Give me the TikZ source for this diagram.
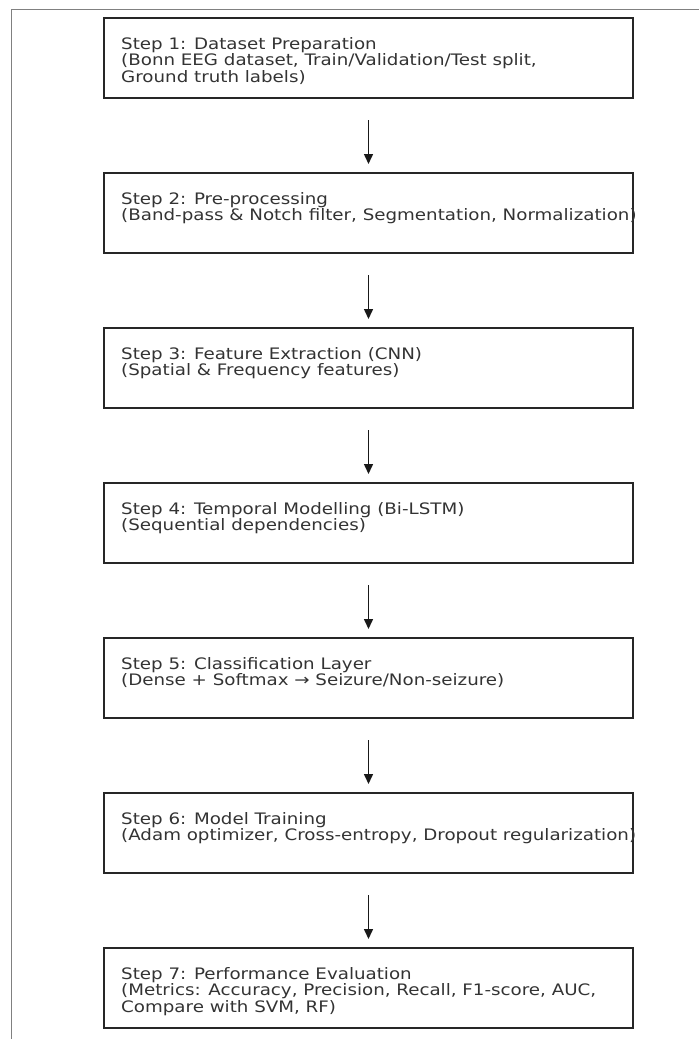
\documentclass[tikz,border=0pt]{standalone}
\usepackage{fontspec}
\setmainfont{DejaVu Sans}
\usetikzlibrary{arrows.meta,calc}
\newcommand{\steplines}[1]{\scalebox{1.155}[1]{\begin{tabular}[t]{@{}l@{}}#1\end{tabular}}}
\tikzset{
  stepbox/.style={draw=black!85, line width=1.8pt, minimum width=529pt, minimum height=80pt, inner sep=0pt, outer sep=0pt},
  steptext/.style={anchor=base west, inner sep=0pt, text=black!80, font=\fontsize{15.8pt}{16.5pt}\selectfont},
  arr/.style={draw=black!90, line width=1.5pt, -{Triangle[length=10pt,width=9pt]}, shorten <=22pt, shorten >=9pt},
  frame/.style={draw=black!50, line width=1.3pt}
}
\begin{document}
\begin{tikzpicture}[x=1pt,y=-1pt]
\useasboundingbox (0,0) rectangle (699,1039);
\coordinate (fa) at (11.5,1039);
\coordinate (fb) at (11.5,9.5);
\coordinate (fc) at (699,9.5);
\draw[frame] (fa) -- (fb) -- (fc);
\foreach \i/\t in {1/{Step 1: Dataset Preparation\\(Bonn EEG dataset, Train/Validation/Test split,\\Ground truth labels)},
                   2/{Step 2: Pre-processing\\(Band-pass \& Notch filter, Segmentation, Normalization)},
                   3/{Step 3: Feature Extraction (CNN)\\(Spatial \& Frequency features)},
                   4/{Step 4: Temporal Modelling (Bi-LSTM)\\(Sequential dependencies)},
                   5/{Step 5: Classification Layer\\(Dense + Softmax → Seizure/Non-seizure)},
                   6/{Step 6: Model Training\\(Adam optimizer, Cross-entropy, Dropout regularization)},
                   7/{Step 7: Performance Evaluation\\(Metrics: Accuracy, Precision, Recall, F1-score, AUC,\\Compare with SVM, RF)}}{
  \node[stepbox] (b\i) at (368.5, {58+155*(\i-1)}) {};
  \node[steptext] (t\i) at ($(b\i.north west)+(17,31)$) {\steplines{\t}};
}
\foreach \i [evaluate=\i as \j using int(\i+1)] in {1,...,6}{
  \draw[arr] (b\i.south) -- (b\j.north);
}
\end{tikzpicture}
\end{document}
